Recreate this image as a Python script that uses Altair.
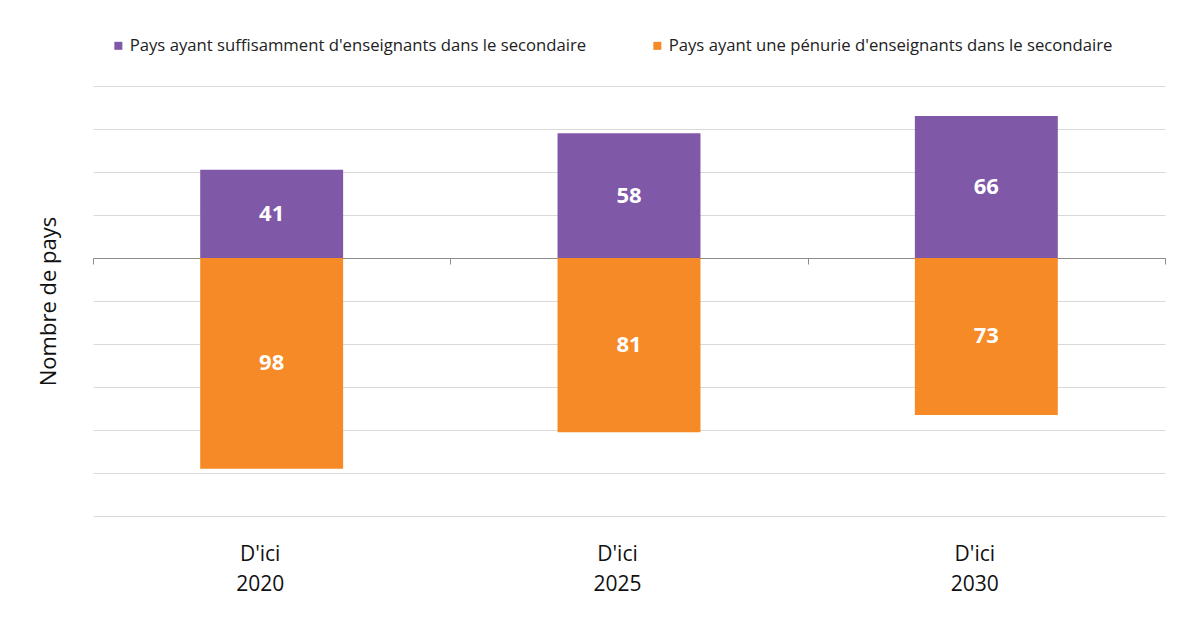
import altair as alt
import pandas as pd

years = ["2020", "2025", "2030"]
sufficient = [41, 58, 66]
shortage = [98, 81, 73]
series = ["Pays ayant suffisamment d'enseignants dans le secondaire",
          "Pays ayant une pénurie d'enseignants dans le secondaire"]
colors = ["#7F58A8", "#F68A26"]

rows = []
for y, s, p in zip(years, sufficient, shortage):
    rows.append({"year": y, "series": series[0], "value": s, "label": s})
    rows.append({"year": y, "series": series[1], "value": -p, "label": p})
df = pd.DataFrame(rows)

FONT = "Open Sans"

x_axis = alt.Axis(title=None, offset=-258, tickBand="extent",
                  domainColor="#8c8c8c", tickColor="#8c8c8c", tickSize=6,
                  labelExpr="datum.label ? [\"D'ici\", datum.label] : ''",
                  labelFont=FONT, labelFontSize=21, labelColor="#111111",
                  labelLineHeight=30, labelPadding=279, labelAngle=0,
                  labelOffset=-12)
x_scale = alt.Scale(paddingInner=0, paddingOuter=0)
y_scale = alt.Scale(domain=[-120, 80], nice=False)
y_axis = alt.Axis(title="Nombre de pays", values=list(range(-120, 81, 20)),
                  labels=False, ticks=False, domain=False,
                  grid=True, gridColor="#d9d9d9",
                  titleFont=FONT, titleFontSize=22, titleFontWeight="normal",
                  titleColor="#111111", titlePadding=33)

bars = alt.Chart(df).mark_bar(width=alt.RelativeBandSize(0.4)).encode(
    x=alt.X("year:N", sort=years, scale=x_scale, axis=x_axis),
    y=alt.Y("value:Q", scale=y_scale, axis=y_axis),
    color=alt.Color("series:N", sort=series,
                    scale=alt.Scale(domain=series, range=colors),
                    legend=alt.Legend(title=None, orient="none", direction="horizontal",
                                      legendX=17, legendY=-49, symbolType="square",
                                      symbolSize=64, symbolStrokeWidth=0,
                                      labelFont=FONT, labelFontSize=16.7,
                                      labelColor="#222222", labelLimit=700,
                                      labelOffset=3,
                                      columnPadding=62, padding=0, symbolOffset=0)),
)

text = alt.Chart(df).transform_calculate(mid="datum.value / 2").mark_text(
    font=FONT, fontSize=22, fontWeight="bold", color="white"
).encode(
    x=alt.X("year:N", sort=years, scale=x_scale, axis=x_axis),
    y=alt.Y("mid:Q", scale=y_scale, axis=y_axis),
    text=alt.Text("label:Q"),
)

chart = alt.layer(bars, text).properties(
    width=1072, height=430,
    autosize=alt.AutoSizeParams(type="none"),
    padding={"left": 85, "top": 78, "right": 18, "bottom": 100},
).configure_view(stroke=None).configure_axis(gridWidth=1)

chart.save("out.html", embed_options={"renderer": "svg", "actions": False})
